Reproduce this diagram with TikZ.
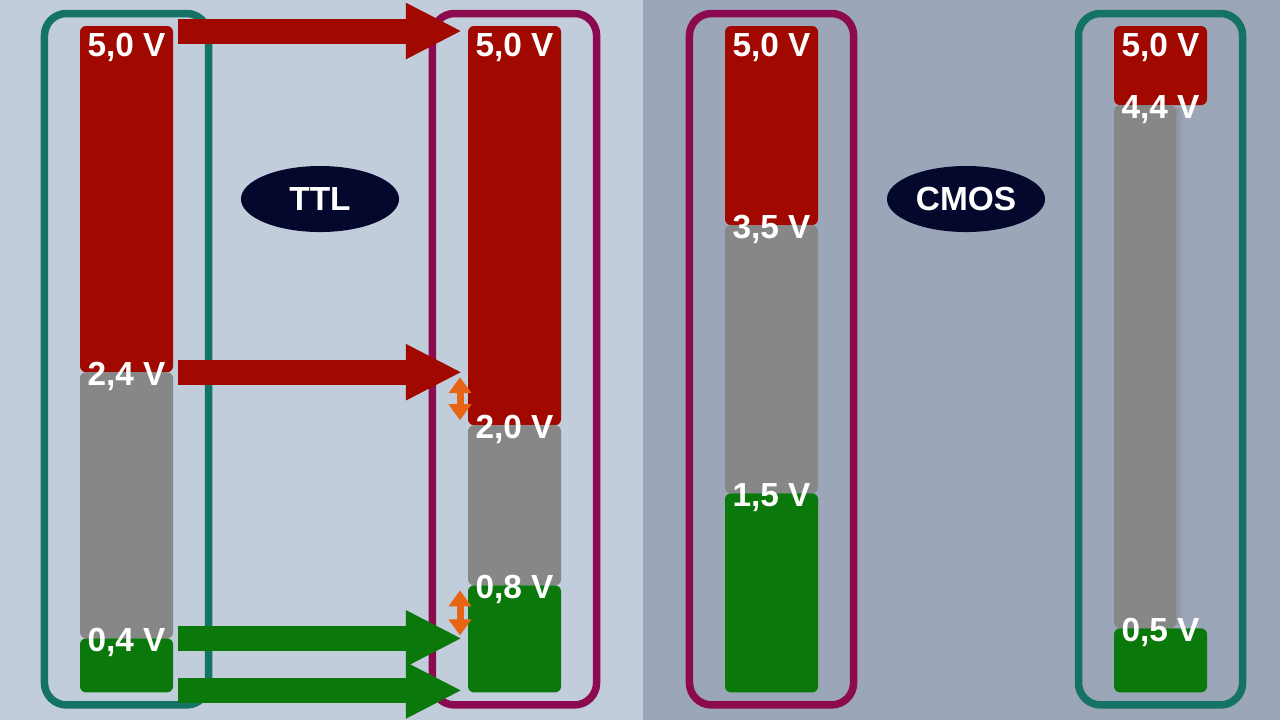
\documentclass[tikz,border=0pt]{standalone}
\usepackage{fontspec}
\setmainfont{Liberation Sans}
\usetikzlibrary{arrows.meta,shapes.geometric,fit}
\definecolor{bgleft}{RGB}{194,205,220}
\definecolor{bgright}{RGB}{155,166,184}
\definecolor{barred}{RGB}{160,8,0}
\definecolor{bargray}{RGB}{135,135,135}
\definecolor{bargreen}{RGB}{10,120,10}
\definecolor{frameteal}{RGB}{20,115,100}
\definecolor{framemag}{RGB}{140,10,80}
\definecolor{gaporange}{RGB}{230,100,20}
\definecolor{badgeblue}{RGB}{5,8,45}
\begin{document}
\begin{tikzpicture}[x=0.01cm,y=-0.01cm,
  bar/.style={rectangle,rounded corners=0.06cm,inner sep=0pt,outer sep=0pt,anchor=north west},
  volt/.style={text=white,font=\fontsize{9.5}{11}\selectfont\bfseries,
    inner sep=0pt,text height=6.8pt,text depth=0pt},
  group/.style={draw=#1,line width=0.075cm,rounded corners=0.22cm,
    inner xsep=0.355cm,inner ysep=0.125cm},
  badge/.style={ellipse,fill=badgeblue,text=white,minimum width=1.58cm,
    minimum height=0.66cm,inner sep=0pt,font=\fontsize{9.5}{11}\selectfont\bfseries},
  bigarrow/.style={line width=0.25cm,-{Triangle[length=0.56cm,width=0.52cm]}},
  gaparrow/.style={gaporange,line width=0.07cm,
    {Triangle[length=0.16cm,width=0.22cm]}-{Triangle[length=0.16cm,width=0.22cm]}}]
  \useasboundingbox (0,0) rectangle (1280,720);
  \fill[bgleft] (0,0) rectangle (643,720);
  \fill[bgright] (643,0) rectangle (1280,720);
  % soft edge of the narrow grey bar
  \shade[left color=bargray,right color=bgright] (1170,108) rectangle (1184,624);
  % bars: red / grey / green
  \foreach \n/\x/\a/\b/\gw in
    {A/80/372/638/0.93, B/468/425/585/0.93, C/725/225/493/0.93, D/1114/105/628/0.62}{
    \pgfmathsetmacro\hr{(\a-26)/100}
    \pgfmathsetmacro\hg{(\b-\a)/100}
    \pgfmathsetmacro\hl{(692-\b)/100}
    \node[bar,fill=barred,minimum width=0.93cm,minimum height=\hr cm] (hi\n) at (\x,26) {};
    \node[bar,fill=bargray,minimum width=\gw cm,minimum height=\hg cm] (mid\n) at (hi\n.south west) {};
    \node[bar,fill=bargreen,minimum width=0.93cm,minimum height=\hl cm] (lo\n) at (hi\n.south west |- mid\n.south) {};
  }
  \node[group=frameteal,fit=(hiA)(loA)] (frameA) {};
  \node[group=framemag,fit=(hiB)(loB)] (frameB) {};
  \node[group=framemag,fit=(hiC)(loC)] (frameC) {};
  \node[group=frameteal,fit=(hiD)(loD)] (frameD) {};
  % voltage labels
  \foreach \n/\ta/\tb in
    {A/{2,4 V}/{0,4 V}, B/{2,0 V}/{0,8 V}, C/{3,5 V}/{1,5 V}, D/{4,4 V}/{0,5 V}}{
    \node[volt] (top\n) at ([shift={(0,19)}]hi\n.north) {5,0 V};
    \node[volt] (up\n) at ([shift={(0,1)}]hi\n.south) {\ta};
    \node[volt] (low\n) at ([shift={(0,1)}]lo\n.north) {\tb};
  }
  \node[badge] (ttl) at (320,199) {TTL};
  \node[badge] (cmos) at (966,199) {CMOS};
  % output levels -> input levels
  \coordinate (tipHi) at (hiB.west |- hiA.south east);
  \coordinate (tipLoA) at (loB.west |- loA.north east);
  \coordinate (tipLoB) at (loB.west |- loA.south east);
  \draw[bigarrow,barred] ([shift={(5,5)}]hiA.north east) -- ([shift={(-6,5)}]hiB.north west);
  \draw[bigarrow,barred] ([shift={(5,0)}]hiA.south east) -- ([shift={(-6,0)}]tipHi);
  \draw[bigarrow,bargreen] ([shift={(5,0)}]loA.north east) -- ([shift={(-6,0)}]tipLoA);
  \draw[bigarrow,bargreen] ([shift={(5,-2)}]loA.south east) -- ([shift={(-6,-2)}]tipLoB);
  \draw[gaparrow] ([shift={(-8,5)}]tipHi) -- ([shift={(-8,-5)}]hiB.south west);
  \draw[gaparrow] ([shift={(-8,5)}]loB.north west) -- ([shift={(-8,-3)}]tipLoA);
\end{tikzpicture}
\end{document}
